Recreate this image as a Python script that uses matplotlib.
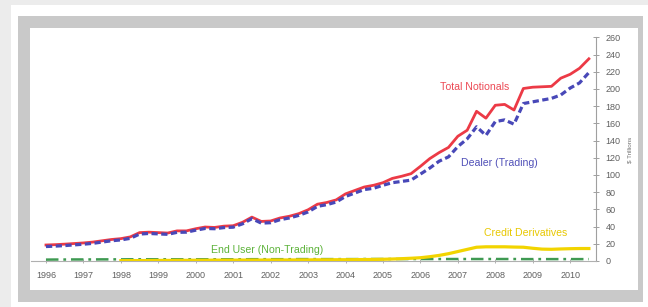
import matplotlib.pyplot as plt
import matplotlib.patches as patches
import numpy as np
import pandas as pd

plt.rcParams['font.family'] = ['Liberation Sans', 'DejaVu Sans']
plt.rcParams['lines.scale_dashes'] = False

# quarterly observations, 1996Q1 .. 2010Q3
quarters = pd.period_range('1996Q1', '2010Q3', freq='Q')
x = np.array([q.year + (q.quarter - 1) / 4 for q in quarters])

total_notionals = [
    18.6, 19.0, 19.6, 20.3,
    21.0, 22.0, 23.5, 25.0,
    26.0, 28.0, 33.0, 33.5,
    33.0, 32.5, 35.0, 35.0,
    37.5, 39.5, 39.0, 40.5,
    41.0, 45.0, 51.0, 46.0,
    46.5, 50.0, 52.0, 55.0,
    59.5, 66.0, 68.0, 71.0,
    78.0, 82.0, 86.0, 88.0,
    91.0, 96.0, 98.5, 101.5,
    110.0, 119.0, 126.0, 132.0,
    145.0, 152.0, 174.0, 166.0,
    181.0, 182.0, 175.5, 200.5,
    202.0, 202.5, 203.0, 212.5,
    217.0, 224.0, 235.0,
]
dealer_trading = [
    16.8, 17.3, 17.9, 18.7,
    19.5, 20.5, 22.0, 23.5,
    24.5, 26.3, 31.3, 32.0,
    31.5, 31.0, 33.3, 33.5,
    35.8, 37.8, 37.5, 38.8,
    39.3, 43.2, 49.2, 44.0,
    44.5, 48.0, 50.0, 53.0,
    57.0, 63.5, 65.5, 68.5,
    75.0, 79.0, 83.0, 84.5,
    88.0, 91.0, 92.5, 94.0,
    101.0, 108.0, 116.0, 121.0,
    133.0, 142.0, 156.0, 146.0,
    162.0, 164.0, 159.0, 183.0,
    185.0, 187.0, 189.0, 193.0,
    201.0, 207.0, 219.0,
]
end_user = [
    1.6, 1.7, 1.7, 1.8, 1.8, 1.8, 1.9, 1.9, 1.9, 2.0, 2.0, 2.0,
    2.0, 2.0, 2.0, 2.0, 2.0, 2.0, 2.0, 2.0, 2.0, 2.0, 2.1, 2.1,
    2.1, 2.1, 2.1, 2.2, 2.2, 2.2, 2.2, 2.2, 2.2, 2.2, 2.3, 2.3,
    2.3, 2.3, 2.3, 2.3, 2.3, 2.3, 2.3, 2.3, 2.3, 2.3, 2.3, 2.3,
    2.3, 2.3, 2.3, 2.2, 2.2, 2.2, 2.2, 2.2, 2.2, 2.2, 2.2,
]
# credit derivatives reported from 1998Q1
credit_x = x[8:]
credit_derivatives = [
    0.4, 0.5, 0.5, 0.6,
    0.7, 0.7, 0.8, 0.8,
    0.9, 0.9, 1.0, 1.0,
    1.0, 1.1, 1.1, 1.1,
    1.2, 1.2, 1.2, 1.3,
    1.3, 1.4, 1.4, 1.5,
    1.5, 1.6, 1.7, 1.8,
    2.0, 2.3, 2.7, 3.2,
    3.8, 5.0, 6.5, 8.5,
    11.0, 13.5, 16.0, 16.5,
    16.5, 16.5, 16.2, 16.0,
    14.8, 13.8, 13.6, 14.0,
    14.3, 14.5, 14.5,
]
years = list(range(1996, 2011))
yticks = list(range(0, 261, 20))

fig = plt.figure(figsize=(6.48, 3.07), dpi=100)
W, H = 648, 307

def box(x0, y0, x1, y1, color):
    fig.patches.append(patches.Rectangle((x0 / W, 1 - y1 / H), (x1 - x0) / W, (y1 - y0) / H,
                                         transform=fig.transFigure, facecolor=color,
                                         edgecolor='none', zorder=-10))

# page shadow, grey frame, white card
box(0, 0, 648, 307, '#ececec')
box(11, 5, 648, 307, '#ffffff')
box(18, 16, 643, 302, '#c9c9c9')
box(30, 28, 638, 290, '#ffffff')

ax = fig.add_axes([31 / W, 1 - 261 / H, (596 - 31) / W, (261 - 37.3) / H])
ax.set_facecolor('none')

ax.plot(x, end_user, color='#3f9a52', lw=1.8, dashes=(9, 3.5, 2, 3.5), zorder=2)
ax.plot(credit_x, credit_derivatives, color='#f2d400', lw=2.3, zorder=3)
ax.plot(x, total_notionals, color='#ec3a46', lw=2.0, zorder=4)
ax.plot(x, dealer_trading, color='#4848b8', lw=2.3, dashes=(4.5, 2.5), zorder=5)

ax.text(2007.45, 202, 'Total Notionals', color='#ec4a55', fontsize=7.6, ha='center', va='center')
ax.text(2008.1, 114, 'Dealer (Trading)', color='#5050b8', fontsize=7.6, ha='center', va='center')
ax.text(2008.8, 32.5, 'Credit Derivatives', color='#e8c800', fontsize=7.6, ha='center', va='center')
ax.text(2001.9, 12.8, 'End User (Non-Trading)', color='#5db33a', fontsize=7.6, ha='center', va='center')

ax.set_xlim(1995.6, 2010.69)
ax.set_ylim(0, 260)
for s in ['top', 'left']:
    ax.spines[s].set_visible(False)
ax.spines['right'].set_color('#a0a0a0')
ax.spines['bottom'].set_color('#b0b0b0')
ax.spines['right'].set_linewidth(0.8)
ax.spines['bottom'].set_linewidth(0.8)

ax.yaxis.tick_right()
ax.set_yticks(yticks)
ax.set_yticklabels([str(v) for v in yticks])
ax.tick_params(axis='y', direction='inout', length=4, width=0.7, colors='#a0a0a0',
               labelcolor='#606060', labelsize=6.5, pad=5)
ax.set_xticks(years)
ax.set_xticklabels([str(v) for v in years])
ax.tick_params(axis='x', direction='inout', length=3, width=0.7, colors='#b0b0b0',
               labelcolor='#606060', labelsize=6.5, pad=6)

fig.text(630 / W, 1 - 150 / H, '$ Trillions', rotation=90, fontsize=4.5, color='#707070',
         ha='center', va='center')

fig.savefig('out.png', dpi=100)
